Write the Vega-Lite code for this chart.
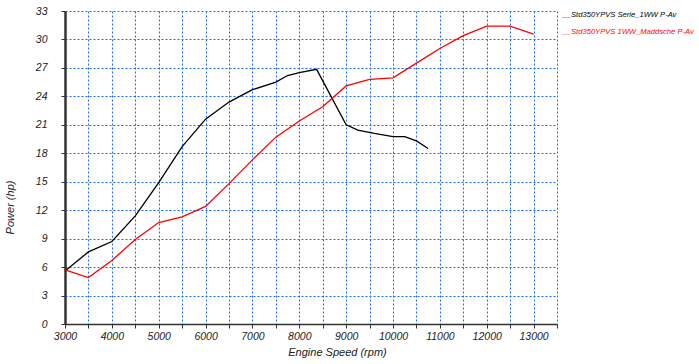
{
  "$schema": "https://vega.github.io/schema/vega-lite/v6.json",
  "width": 492,
  "height": 313,
  "autosize": {"type": "none"},
  "padding": {"left": 65, "top": 11, "right": 142, "bottom": 40},
  "background": "white",
  "config": {
    "view": {"stroke": null},
    "font": "Liberation Sans"
  },
  "data": {
    "values": [
      {"rpm": 3000, "hp": 5.6, "series": "Std350YPVS Serie_1WW P-Av"},
      {"rpm": 3500, "hp": 7.6, "series": "Std350YPVS Serie_1WW P-Av"},
      {"rpm": 4000, "hp": 8.7, "series": "Std350YPVS Serie_1WW P-Av"},
      {"rpm": 4500, "hp": 11.4, "series": "Std350YPVS Serie_1WW P-Av"},
      {"rpm": 5000, "hp": 14.9, "series": "Std350YPVS Serie_1WW P-Av"},
      {"rpm": 5500, "hp": 18.7, "series": "Std350YPVS Serie_1WW P-Av"},
      {"rpm": 6000, "hp": 21.6, "series": "Std350YPVS Serie_1WW P-Av"},
      {"rpm": 6500, "hp": 23.4, "series": "Std350YPVS Serie_1WW P-Av"},
      {"rpm": 7000, "hp": 24.7, "series": "Std350YPVS Serie_1WW P-Av"},
      {"rpm": 7500, "hp": 25.5, "series": "Std350YPVS Serie_1WW P-Av"},
      {"rpm": 7750, "hp": 26.2, "series": "Std350YPVS Serie_1WW P-Av"},
      {"rpm": 8000, "hp": 26.5, "series": "Std350YPVS Serie_1WW P-Av"},
      {"rpm": 8370, "hp": 26.85, "series": "Std350YPVS Serie_1WW P-Av"},
      {"rpm": 9000, "hp": 21.0, "series": "Std350YPVS Serie_1WW P-Av"},
      {"rpm": 9250, "hp": 20.45, "series": "Std350YPVS Serie_1WW P-Av"},
      {"rpm": 9600, "hp": 20.1, "series": "Std350YPVS Serie_1WW P-Av"},
      {"rpm": 10000, "hp": 19.75, "series": "Std350YPVS Serie_1WW P-Av"},
      {"rpm": 10250, "hp": 19.75, "series": "Std350YPVS Serie_1WW P-Av"},
      {"rpm": 10500, "hp": 19.3, "series": "Std350YPVS Serie_1WW P-Av"},
      {"rpm": 10750, "hp": 18.5, "series": "Std350YPVS Serie_1WW P-Av"},
      {"rpm": 3000, "hp": 5.7, "series": "Std350YPVS 1WW_Maddsche P-Av"},
      {"rpm": 3500, "hp": 4.9, "series": "Std350YPVS 1WW_Maddsche P-Av"},
      {"rpm": 4000, "hp": 6.7, "series": "Std350YPVS 1WW_Maddsche P-Av"},
      {"rpm": 4500, "hp": 8.9, "series": "Std350YPVS 1WW_Maddsche P-Av"},
      {"rpm": 5000, "hp": 10.7, "series": "Std350YPVS 1WW_Maddsche P-Av"},
      {"rpm": 5500, "hp": 11.3, "series": "Std350YPVS 1WW_Maddsche P-Av"},
      {"rpm": 6000, "hp": 12.4, "series": "Std350YPVS 1WW_Maddsche P-Av"},
      {"rpm": 6500, "hp": 14.8, "series": "Std350YPVS 1WW_Maddsche P-Av"},
      {"rpm": 7000, "hp": 17.3, "series": "Std350YPVS 1WW_Maddsche P-Av"},
      {"rpm": 7500, "hp": 19.7, "series": "Std350YPVS 1WW_Maddsche P-Av"},
      {"rpm": 8000, "hp": 21.4, "series": "Std350YPVS 1WW_Maddsche P-Av"},
      {"rpm": 8500, "hp": 22.9, "series": "Std350YPVS 1WW_Maddsche P-Av"},
      {"rpm": 9000, "hp": 25.1, "series": "Std350YPVS 1WW_Maddsche P-Av"},
      {"rpm": 9500, "hp": 25.8, "series": "Std350YPVS 1WW_Maddsche P-Av"},
      {"rpm": 10000, "hp": 25.95, "series": "Std350YPVS 1WW_Maddsche P-Av"},
      {"rpm": 10500, "hp": 27.5, "series": "Std350YPVS 1WW_Maddsche P-Av"},
      {"rpm": 11000, "hp": 29.05, "series": "Std350YPVS 1WW_Maddsche P-Av"},
      {"rpm": 11500, "hp": 30.4, "series": "Std350YPVS 1WW_Maddsche P-Av"},
      {"rpm": 12000, "hp": 31.4, "series": "Std350YPVS 1WW_Maddsche P-Av"},
      {"rpm": 12500, "hp": 31.4, "series": "Std350YPVS 1WW_Maddsche P-Av"},
      {"rpm": 13000, "hp": 30.55, "series": "Std350YPVS 1WW_Maddsche P-Av"}
    ]
  },
  "mark": {"type": "line", "strokeWidth": 1.3},
  "encoding": {
    "x": {
      "field": "rpm",
      "type": "quantitative",
      "scale": {"domain": [3000, 13500], "nice": false, "zero": false},
      "axis": {
        "title": "Engine Speed (rpm)",
        "titleFont": "Liberation Sans",
        "titleFontStyle": "italic",
        "titleFontWeight": "normal",
        "titleFontSize": 11,
        "titleColor": "#222",
        "titleX": 272,
        "titleY": 28,
        "titleBaseline": "middle",
        "titleAlign": "center",
        "values": [3000, 3500, 4000, 4500, 5000, 5500, 6000, 6500, 7000, 7500, 8000, 8500, 9000, 9500, 10000, 10500, 11000, 11500, 12000, 12500, 13000, 13500],
        "labelExpr": "datum.value % 1000 == 0 && datum.value <= 13000 ? datum.label : ''",
        "format": "d",
        "labelFontStyle": "italic",
        "labelFontSize": 10.5,
        "labelColor": "#222",
        "labelPadding": 3,
        "labelFlush": false,
        "labelOverlap": false,
        "domainColor": "#333",
        "domainWidth": 1.5,
        "tickColor": "#333",
        "tickSize": 4,
        "tickWidth": 1,
        "grid": true,
        "gridColor": "#1a6cff",
        "gridDash": [2, 2],
        "gridWidth": 1
      }
    },
    "y": {
      "field": "hp",
      "type": "quantitative",
      "scale": {"domain": [0, 33], "nice": false},
      "axis": {
        "title": "Power (hp)",
        "titleFont": "Liberation Sans",
        "titleFontStyle": "italic",
        "titleFontWeight": "normal",
        "titleFontSize": 11,
        "titleColor": "#222",
        "titleX": -55,
        "titleY": 196,
        "titleAlign": "center",
        "titleBaseline": "middle",
        "values": [0, 3, 6, 9, 12, 15, 18, 21, 24, 27, 30, 33],
        "labelFontStyle": "italic",
        "labelFontSize": 10.5,
        "labelColor": "#222",
        "labelPadding": 14,
        "labelFlush": false,
        "labelOverlap": false,
        "domainColor": "#333",
        "domainWidth": 2.5,
        "tickColor": "#333",
        "tickSize": 4,
        "tickWidth": 1,
        "grid": true,
        "gridColor": "#1a6cff",
        "gridDash": [2, 2],
        "gridWidth": 1
      }
    },
    "color": {
      "field": "series",
      "type": "nominal",
      "scale": {
        "domain": ["Std350YPVS Serie_1WW P-Av", "Std350YPVS 1WW_Maddsche P-Av"],
        "range": ["#000000", "#ff0000"]
      },
      "legend": {
        "title": null,
        "orient": "none",
        "legendX": 490,
        "legendY": 0,
        "symbolSize": 0,
        "symbolStrokeWidth": 0,
        "symbolOpacity": 0,
        "labelOffset": 0,
        "rowPadding": 8,
        "labelFont": "Liberation Sans",
        "labelFontStyle": "italic",
        "labelFontSize": 7.6,
        "labelLimit": 200,
        "labelExpr": "'__' + datum.label",
        "labelColor": {"expr": "datum.value == 'Std350YPVS Serie_1WW P-Av' ? '#000000' : '#ff0000'"}
      }
    }
  }
}
